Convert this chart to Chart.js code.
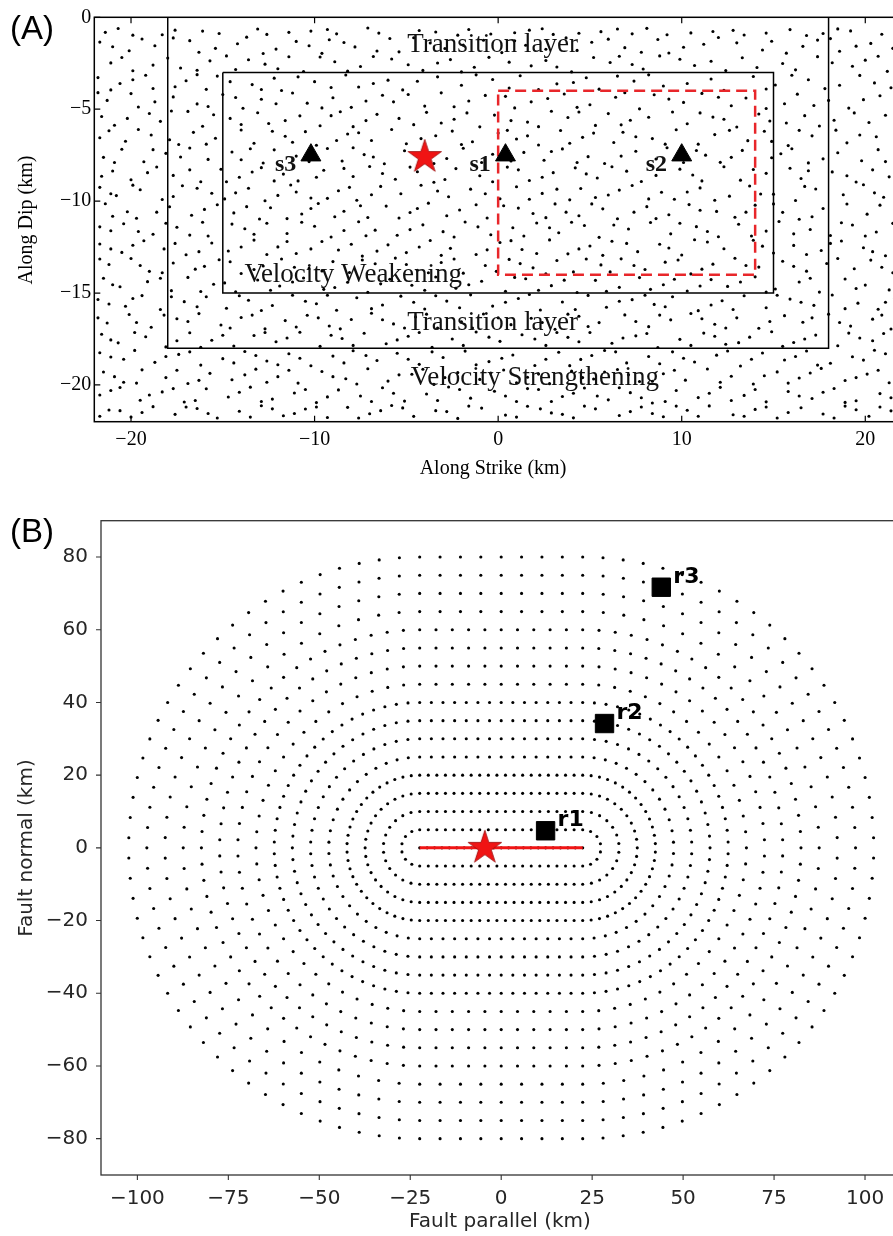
<!DOCTYPE html>
<html lang="en">
<head>
<meta charset="UTF-8">
<title>Fault model and receivers</title>
<script src="https://cdn.jsdelivr.net/npm/chart.js@4"></script>
<style>
  html, body { margin: 0; padding: 0; background: #fff; }
  body { width: 893px; height: 1236px; position: relative; overflow: hidden; }
  canvas { position: absolute; left: 0; }
  #chartA { top: 0; }
  #chartB { top: 490px; }
</style>
</head>
<body>
<canvas id="chartA" width="910" height="480"></canvas>
<canvas id="chartB" width="910" height="746"></canvas>
<script>
// ---------- panel (A): fault plane ----------
const strikeTicks = [-20, -10, 0, 10, 20];
const dipTicks = [0, -5, -10, -15, -20];

const outerBox = [[-18, 0], [18, 0], [18, -18], [-18, -18], [-18, 0]];
const innerBox = [[-15, -3], [15, -3], [15, -15], [-15, -15], [-15, -3]];
const patchBox = [[0, -4], [14, -4], [14, -14], [0, -14], [0, -4]];

const stationNames = ['s1', 's2', 's3'];
const stationX = [0.4, 10.0, -10.2];
const stationY = [-7.5, -7.5, -7.5];
const hypoA = [-4.0, -7.6];

const regionNames = ['Transition layer', 'Velocity Weakening', 'Transition layer', 'Velocity Strengthening'];
const regionX = [-0.3, -7.9, -0.3, 2.0];
const regionY = [-1.5, -14.0, -16.6, -19.6];

// mesh nodes on the fault, x,y pairs (km), one line per km of depth
const meshXY = [
  -21.4,-0.82, -20.7,-0.61, -18.3,-0.95, -17.6,-0.7, -15.2,-0.88, -13.1,-0.64, -12.6,-0.93, -10.2,-0.75, -8.8,-0.9, -7.1,-0.58, -6.5,-0.86, -4.3,-0.72, -2.2,-0.97, -1.6,-0.66, 0.9,-0.84, 2.4,-0.62, 3.0,-0.93, 5.6,-0.78, 7.3,-0.9, 8.1,-0.6, 10.5,-0.85, 12.8,-0.71, 13.4,-0.96, 15.9,-0.67, 17.7,-0.88, 19.2,-0.74, 20.9,-0.92,
  -19.9,-0.97, -16.1,-0.75, -11.4,-0.82, -9.3,-0.66, -3.4,-0.8, -0.4,-0.91, 1.7,-0.7, 4.4,-0.87, 6.5,-0.64, 9.2,-0.95, 11.7,-0.77, 14.6,-0.86, 16.8,-0.99, 18.5,-0.63, 21.6,-0.79,
  -21.7,-1.35, -20.1,-1.82, -19.4,-1.18, -18.7,-1.55, -16.8,-1.27, -16.3,-1.9, -14.2,-1.44, -13.7,-1.08, -12.1,-1.73, -11.0,-1.31, -9.6,-1.96, -9.2,-1.22, -7.8,-1.61, -5.9,-1.15, -5.4,-1.88, -3.7,-1.4, -2.9,-1.7, -0.8,-1.25, 0.2,-1.92, 1.5,-1.52, 3.7,-1.12, 4.3,-1.8, 5.1,-1.36, 6.9,-1.65, 8.7,-1.21, 9.3,-1.94, 11.2,-1.47, 12.0,-1.1, 14.4,-1.78, 14.9,-1.3, 16.6,-1.58, 18.1,-1.16, 18.6,-1.85, 20.3,-1.42, 21.5,-1.69,
  -21.0,-1.6, -17.7,-1.12, -15.4,-1.69, -12.8,-1.97, -10.3,-1.55, -8.4,-1.37, -6.6,-1.83, -4.6,-1.11, -1.9,-1.51, 0.9,-1.28, 2.6,-1.74, 6.0,-1.19, 7.8,-1.9, 10.1,-1.63, 13.0,-1.39, 15.7,-1.95, 17.4,-1.24, 19.5,-1.57,
  -21.1,-2.48, -19.9,-2.91, -18.0,-2.22, -17.3,-2.76, -15.7,-2.37, -14.8,-2.1, -14.3,-2.84, -12.7,-2.55, -11.4,-2.15, -10.6,-2.95, -8.9,-2.42, -7.5,-2.68, -6.8,-2.13, -4.9,-2.58, -4.1,-2.89, -2.6,-2.3, -1.3,-2.72, -0.5,-2.18, 1.8,-2.64, 2.6,-2.35, 4.0,-2.97, 6.1,-2.46, 6.6,-2.12, 7.9,-2.81, 9.9,-2.28, 10.7,-2.62, 12.4,-2.9, 13.3,-2.2, 15.5,-2.51, 16.2,-2.86, 17.4,-2.14, 19.3,-2.66, 20.0,-2.33, 21.2,-2.94,
  -20.5,-2.19, -18.8,-2.6, -16.4,-2.88, -13.6,-2.31, -12.0,-2.8, -9.7,-2.16, -8.2,-2.93, -5.8,-2.27, -3.3,-2.49, -2.0,-2.97, 0.6,-2.44, 3.2,-2.7, 5.2,-2.19, 7.3,-2.57, 8.8,-2.1, 11.6,-2.39, 14.1,-2.73, 18.2,-2.47, 20.7,-2.12,
  -21.8,-3.28, -20.6,-3.6, -19.2,-3.15, -18.8,-3.87, -17.0,-3.45, -15.9,-3.92, -15.3,-3.2, -13.4,-3.66, -12.2,-3.31, -11.8,-3.98, -10.0,-3.5, -8.3,-3.14, -7.6,-3.79, -6.0,-3.42, -5.2,-3.95, -3.3,-3.24, -2.0,-3.7, -0.3,-3.38, 0.6,-3.85, 1.2,-3.18, 3.2,-3.62, 4.8,-3.29, 5.5,-3.91, 7.4,-3.47, 8.2,-3.13, 9.0,-3.74, 11.6,-3.36, 12.3,-3.97, 13.9,-3.22, 15.1,-3.68, 16.9,-3.4, 17.8,-3.88, 19.7,-3.16, 20.5,-3.57, 21.4,-3.83,
  -21.1,-3.95, -19.9,-3.4, -17.6,-3.78, -16.4,-3.12, -14.6,-3.5, -12.9,-3.93, -10.9,-3.24, -9.1,-3.82, -6.8,-3.6, -4.4,-3.48, -1.2,-3.13, 2.2,-3.93, 4.1,-3.55, 6.5,-3.2, 10.3,-3.6, 14.6,-3.9, 16.0,-3.15, 18.6,-3.7, 21.8,-3.22,
  -21.3,-4.52, -20.0,-4.15, -19.6,-4.88, -17.7,-4.33, -16.4,-4.71, -15.0,-4.2, -13.9,-4.95, -12.9,-4.46, -11.2,-4.12, -10.4,-4.67, -9.0,-4.38, -8.0,-4.9, -6.3,-4.24, -5.7,-4.6, -4.0,-4.83, -3.1,-4.11, -1.6,-4.55, 0.4,-4.3, 0.9,-4.93, 2.7,-4.42, 3.6,-4.17, 5.0,-4.76, 6.4,-4.35, 7.7,-4.98, 8.5,-4.21, 10.1,-4.63, 11.1,-4.14, 12.7,-4.81, 13.5,-4.39, 15.6,-4.7, 16.3,-4.18, 18.0,-4.52, 19.1,-4.94, 20.8,-4.27, 21.7,-4.65,
  -21.8,-4.1, -18.7,-4.6, -15.8,-4.85, -14.3,-4.36, -12.1,-4.7, -9.6,-4.93, -7.2,-4.55, -4.9,-4.2, -2.4,-4.87, -0.7,-4.25, 1.8,-4.6, 4.3,-4.9, 6.9,-4.1, 9.3,-4.45, 12.0,-4.35, 14.6,-4.96, 17.2,-4.8, 19.9,-4.48,
  -21.6,-5.4, -20.9,-5.87, -19.0,-5.23, -18.4,-5.66, -16.9,-5.12, -16.1,-5.93, -14.6,-5.5, -13.1,-5.19, -12.5,-5.78, -10.8,-5.36, -9.7,-5.9, -8.6,-5.14, -7.2,-5.62, -6.6,-5.28, -4.6,-5.84, -3.9,-5.17, -2.4,-5.55, -1.0,-5.96, -0.2,-5.32, 1.6,-5.7, 2.9,-5.11, 3.8,-5.45, 5.3,-5.88, 6.0,-5.24, 7.2,-5.6, 9.5,-5.15, 10.3,-5.79, 11.7,-5.43, 13.0,-5.97, 14.2,-5.26, 14.8,-5.64, 16.7,-5.35, 17.5,-5.91, 19.4,-5.2, 20.2,-5.72, 21.1,-5.33,
  -20.2,-5.5, -17.8,-5.1, -15.5,-5.3, -14.0,-5.83, -11.6,-5.62, -9.1,-5.35, -7.9,-5.95, -5.4,-5.5, -3.1,-5.75, -1.7,-5.2, 0.7,-5.62, 2.2,-5.95, 4.4,-5.15, 6.7,-5.85, 8.2,-5.44, 11.0,-5.2, 12.3,-5.55, 15.7,-5.75, 18.3,-5.6, 21.7,-5.9,
  -21.2,-6.17, -20.3,-6.74, -18.9,-6.4, -17.4,-6.92, -16.6,-6.26, -15.4,-6.58, -14.0,-6.13, -13.3,-6.85, -11.6,-6.47, -10.5,-6.22, -9.9,-6.96, -8.2,-6.35, -6.9,-6.7, -5.8,-6.1, -5.0,-6.88, -3.4,-6.44, -2.5,-6.19, -1.4,-6.77, 0.0,-6.3, 1.0,-6.62, 2.2,-6.95, 3.4,-6.16, 4.6,-6.53, 6.3,-6.81, 6.8,-6.25, 8.4,-6.6, 9.7,-6.12, 10.9,-6.9, 11.8,-6.38, 13.6,-6.71, 14.5,-6.2, 15.8,-6.98, 17.1,-6.45, 18.4,-6.14, 19.0,-6.83, 20.6,-6.5, 21.6,-6.23,
  -21.7,-6.55, -19.6,-6.1, -17.9,-6.66, -15.9,-6.9, -12.3,-6.2, -11.2,-6.8, -8.8,-6.7, -7.6,-6.28, -4.2,-6.6, -2.0,-6.92, 0.5,-6.15, 1.6,-6.45, 3.9,-6.85, 5.2,-6.3, 7.5,-6.5, 9.1,-6.9, 12.6,-6.15, 14.9,-6.75, 16.4,-6.15, 19.7,-6.4,
  -21.5,-7.62, -20.5,-7.18, -19.3,-7.86, -18.1,-7.4, -16.8,-7.11, -15.8,-7.73, -14.5,-7.33, -12.8,-7.93, -12.2,-7.21, -11.0,-7.55, -9.3,-7.14, -8.5,-7.82, -7.3,-7.47, -6.2,-7.97, -5.1,-7.26, -2.8,-7.68, -1.9,-7.12, -0.9,-7.9, 1.4,-7.35, 2.5,-7.78, 3.5,-7.16, 4.9,-7.58, 5.8,-7.95, 7.5,-7.29, 8.6,-7.71, 9.2,-7.1, 11.3,-7.5, 12.1,-7.89, 13.3,-7.24, 14.9,-7.64, 16.0,-7.15, 16.9,-7.92, 18.5,-7.37, 19.8,-7.8, 20.7,-7.2, 21.8,-7.55,
  -20.9,-7.9, -18.8,-7.2, -17.3,-7.6, -14.0,-7.75, -13.5,-7.15, -10.3,-7.85, -7.9,-7.1, -6.8,-7.6, -3.5,-7.95, -0.3,-7.45, 0.7,-7.82, 2.9,-7.3, 4.3,-7.9, 6.7,-7.55, 10.1,-7.9, 10.8,-7.25, 12.7,-7.62, 15.4,-7.42, 17.7,-7.7, 21.1,-7.85,
  -21.0,-8.36, -20.0,-8.84, -18.6,-8.14, -17.7,-8.6, -16.2,-8.95, -15.1,-8.27, -14.1,-8.7, -12.9,-8.18, -11.7,-8.53, -10.9,-8.9, -9.5,-8.32, -7.9,-8.66, -7.0,-8.12, -5.6,-8.81, -4.4,-8.4, -3.5,-8.97, -2.3,-8.23, -1.0,-8.62, 0.5,-8.15, 1.7,-8.88, 3.0,-8.45, 4.2,-8.19, 5.4,-8.74, 7.0,-8.37, 7.8,-8.93, 9.9,-8.26, 10.6,-8.58, 12.3,-8.13, 13.2,-8.86, 14.6,-8.49, 15.9,-8.21, 16.5,-8.77, 18.2,-8.41, 19.5,-8.96, 20.4,-8.3, 21.3,-8.68,
  -21.6,-8.65, -19.1,-8.45, -16.8,-8.3, -14.8,-8.95, -13.4,-8.42, -12.2,-8.9, -9.9,-8.7, -8.4,-8.22, -6.3,-8.5, -4.8,-8.15, -2.9,-8.82, -0.3,-8.95, 1.1,-8.3, 2.4,-8.7, 4.8,-8.52, 6.2,-8.13, 8.6,-8.6, 11.1,-8.9, 13.9,-8.28, 16.9,-8.35, 19.0,-8.62, 21.8,-8.2,
  -21.7,-9.25, -20.8,-9.7, -19.5,-9.38, -18.3,-9.91, -17.2,-9.16, -15.6,-9.57, -14.9,-9.88, -13.6,-9.3, -12.0,-9.69, -11.3,-9.12, -10.2,-9.83, -8.7,-9.44, -7.7,-9.95, -6.4,-9.2, -5.3,-9.6, -4.2,-9.14, -2.7,-9.76, -1.5,-9.35, 0.1,-9.87, 1.0,-9.22, 2.4,-9.58, 3.9,-9.93, 4.5,-9.31, 6.0,-9.67, 7.3,-9.15, 8.9,-9.52, 9.6,-9.9, 11.0,-9.28, 12.6,-9.73, 13.7,-9.18, 14.3,-9.61, 16.2,-9.97, 17.3,-9.34, 18.8,-9.65, 19.9,-9.11, 21.0,-9.79,
  -21.1,-9.6, -19.9,-9.13, -17.7,-9.75, -16.4,-9.3, -14.3,-9.55, -12.7,-9.98, -11.0,-9.5, -9.3,-9.85, -8.1,-9.25, -6.9,-9.65, -3.3,-9.45, -0.7,-9.6, 1.7,-9.9, 3.2,-9.35, 5.3,-9.8, 6.6,-9.4, 8.2,-9.88, 10.3,-9.5, 11.8,-9.95, 15.0,-9.62, 16.7,-9.2, 20.5,-9.55,
  -21.4,-10.14, -20.2,-10.58, -19.7,-10.93, -17.9,-10.31, -16.7,-10.77, -15.3,-10.2, -14.4,-10.64, -13.0,-10.97, -12.4,-10.36, -10.7,-10.7, -9.8,-10.13, -8.4,-10.55, -7.1,-10.89, -6.1,-10.27, -4.8,-10.62, -3.8,-10.11, -2.1,-10.48, -0.6,-10.92, 0.3,-10.25, 1.9,-10.67, 3.1,-10.15, 4.4,-10.8, 5.7,-10.42, 6.5,-10.96, 8.1,-10.3, 9.3,-10.74, 10.4,-10.19, 11.9,-10.56, 12.9,-10.88, 14.0,-10.22, 15.5,-10.61, 16.4,-10.99, 17.7,-10.4, 19.0,-10.16, 20.1,-10.71, 21.6,-10.45,
  -21.0,-10.82, -18.6,-10.6, -16.0,-10.45, -13.7,-10.3, -11.5,-10.95, -10.2,-10.4, -8.9,-10.85, -7.5,-10.25, -5.4,-10.92, -4.4,-10.4, -2.8,-10.8, -1.2,-10.2, 1.1,-10.38, 2.6,-10.9, 3.7,-10.6, 5.1,-10.15, 7.4,-10.6, 8.6,-10.95, 11.0,-10.5, 13.5,-10.6, 15.0,-10.15, 17.1,-10.85, 20.8,-10.22,
  -21.1,-11.61, -20.4,-11.23, -18.8,-11.8, -17.5,-11.42, -16.1,-11.15, -15.8,-11.9, -13.8,-11.5, -12.6,-11.2, -11.5,-11.76, -10.0,-11.37, -9.1,-11.95, -7.6,-11.12, -6.7,-11.58, -5.5,-11.86, -4.1,-11.29, -3.0,-11.66, -1.8,-11.14, -0.4,-11.83, 0.8,-11.45, 2.1,-11.19, 3.3,-11.72, 4.7,-11.33, 5.5,-11.97, 7.1,-11.52, 8.3,-11.16, 9.4,-11.78, 10.8,-11.39, 12.0,-11.94, 13.1,-11.26, 14.6,-11.63, 15.3,-11.11, 17.0,-11.54, 18.1,-11.87, 19.3,-11.3, 20.6,-11.68, 21.5,-11.21,
  -21.7,-11.4, -19.6,-11.65, -18.1,-11.2, -16.8,-11.85, -14.5,-11.25, -13.3,-11.8, -10.7,-11.15, -8.4,-11.6, -7.2,-11.88, -4.8,-11.55, -2.4,-11.95, -1.1,-11.4, 1.4,-11.9, 2.8,-11.45, 4.0,-11.15, 6.3,-11.3, 9.9,-11.2, 11.4,-11.65, 13.8,-11.9, 16.1,-11.78, 18.7,-11.18, 20.0,-11.9,
  -21.7,-12.33, -20.5,-12.79, -19.3,-12.16, -18.2,-12.6, -17.0,-12.92, -15.6,-12.28, -14.7,-12.71, -13.3,-12.12, -12.0,-12.49, -11.0,-12.85, -9.6,-12.2, -8.7,-12.66, -7.4,-12.99, -6.0,-12.38, -5.0,-12.8, -3.7,-12.14, -2.6,-12.57, -1.2,-12.9, 0.1,-12.25, 1.3,-12.63, 2.8,-12.11, 3.8,-12.87, 5.0,-12.44, 6.2,-12.18, 7.6,-12.75, 8.8,-12.35, 10.0,-12.93, 11.4,-12.22, 12.3,-12.59, 13.9,-12.13, 15.0,-12.82, 16.1,-12.41, 17.6,-12.69, 18.7,-12.17, 19.9,-12.54, 21.1,-12.97,
  -21.1,-12.6, -19.9,-12.4, -17.6,-12.3, -16.3,-12.75, -14.0,-12.5, -12.6,-12.9, -11.5,-12.2, -10.2,-12.6, -8.0,-12.35, -6.6,-12.72, -4.3,-12.5, -3.1,-12.95, -0.6,-12.65, 0.7,-12.15, 2.1,-12.85, 4.4,-12.6, 5.7,-12.95, 7.0,-12.3, 9.3,-12.55, 10.7,-12.1, 14.4,-12.45, 16.8,-12.9, 18.1,-12.3, 20.4,-12.75,
  -21.2,-13.45, -20.0,-13.12, -19.0,-13.82, -17.7,-13.37, -16.5,-13.7, -15.2,-13.19, -14.0,-13.94, -12.8,-13.53, -11.8,-13.15, -10.3,-13.66, -9.0,-13.29, -8.1,-13.88, -6.7,-13.41, -5.6,-13.1, -4.4,-13.76, -3.1,-13.34, -1.9,-13.92, -0.7,-13.5, 0.6,-13.17, 1.9,-13.63, 3.2,-13.23, 4.1,-13.85, 5.6,-13.47, 6.7,-13.14, 8.0,-13.72, 9.1,-13.32, 10.5,-13.96, 11.7,-13.43, 12.9,-13.11, 14.2,-13.59, 15.5,-13.27, 16.8,-13.81, 17.9,-13.39, 19.4,-13.68, 20.3,-13.21, 21.5,-13.9,
  -21.7,-13.15, -19.5,-13.5, -18.3,-13.9, -16.0,-13.55, -14.6,-13.3, -13.3,-13.72, -11.1,-13.6, -9.6,-13.8, -7.4,-13.2, -5.0,-13.45, -3.8,-13.9, -2.4,-13.15, -0.1,-13.82, 1.2,-13.4, 2.6,-13.95, 4.8,-13.15, 6.1,-13.85, 7.4,-13.5, 9.8,-13.2, 11.1,-13.7, 13.5,-13.5, 16.1,-13.55, 18.5,-13.12, 20.9,-13.6,
  -21.5,-14.2, -20.6,-14.66, -19.1,-14.38, -17.8,-14.87, -16.9,-14.15, -15.5,-14.52, -14.3,-14.93, -13.1,-14.29, -11.9,-14.62, -10.6,-14.18, -9.5,-14.8, -8.2,-14.41, -7.1,-14.96, -5.9,-14.25, -4.7,-14.58, -3.4,-14.13, -2.3,-14.74, -0.9,-14.36, 0.4,-14.9, 1.5,-14.22, 2.9,-14.6, 4.3,-14.97, 5.3,-14.31, 6.6,-14.69, 7.7,-14.16, 9.0,-14.55, 10.3,-14.89, 11.6,-14.27, 12.5,-14.64, 14.0,-14.12, 15.1,-14.78, 16.4,-14.4, 17.5,-14.95, 18.9,-14.24, 20.0,-14.57, 21.3,-14.83,
  -21.0,-14.55, -18.4,-14.2, -16.2,-14.92, -14.9,-14.45, -12.4,-14.85, -11.2,-14.4, -8.9,-14.7, -6.4,-14.5, -4.0,-14.85, -1.6,-14.55, 0.9,-14.15, 2.2,-14.85, 3.6,-14.3, 5.9,-14.9, 8.3,-14.8, 9.6,-14.25, 11.0,-14.62, 13.2,-14.4, 14.6,-14.95, 17.0,-14.2, 19.5,-14.75, 21.7,-14.35,
  -21.8,-15.35, -20.3,-15.72, -19.4,-15.14, -18.4,-15.9, -17.1,-15.47, -15.9,-15.2, -14.8,-15.83, -13.6,-15.39, -12.3,-15.68, -11.2,-15.12, -9.9,-15.58, -8.8,-15.94, -7.7,-15.26, -6.3,-15.65, -5.3,-15.17, -4.0,-15.87, -2.8,-15.44, -1.5,-15.1, -0.3,-15.71, 1.1,-15.3, 2.3,-15.92, 3.5,-15.49, 4.9,-15.13, 5.9,-15.77, 7.3,-15.36, 8.5,-15.62, 9.5,-15.2, 10.9,-15.96, 12.2,-15.42, 13.4,-15.15, 14.6,-15.8, 15.9,-15.33, 17.2,-15.67, 18.2,-15.11, 19.6,-15.55, 20.7,-15.88, 21.6,-15.28,
  -21.2,-15.6, -19.9,-15.3, -17.8,-15.2, -16.4,-15.75, -14.1,-15.15, -12.9,-15.95, -10.5,-15.45, -9.3,-15.12, -6.9,-15.85, -4.6,-15.5, -3.4,-15.15, -2.1,-15.8, 0.4,-15.5, 1.7,-15.08, 4.2,-15.9, 6.6,-15.45, 8.0,-15.12, 9.1,-15.75, 11.6,-15.65, 12.8,-15.9, 15.2,-15.12, 16.5,-15.5, 18.9,-15.85, 21.1,-15.5,
  -21.3,-16.63, -20.1,-16.17, -18.9,-16.86, -17.5,-16.4, -16.3,-16.12, -15.1,-16.74, -14.0,-16.33, -12.7,-16.95, -11.6,-16.5, -10.4,-16.21, -9.2,-16.79, -8.0,-16.44, -6.9,-16.1, -5.7,-16.68, -4.5,-16.3, -3.3,-16.9, -2.0,-16.56, -0.8,-16.14, 0.7,-16.72, 1.8,-16.37, 3.1,-16.97, 4.4,-16.26, 5.5,-16.61, 6.9,-16.19, 8.2,-16.83, 9.4,-16.46, 10.5,-16.11, 11.8,-16.7, 13.0,-16.35, 14.2,-16.92, 15.6,-16.23, 16.6,-16.59, 18.0,-16.15, 19.2,-16.8, 20.4,-16.42, 21.4,-16.96,
  -21.8,-16.35, -19.7,-16.6, -18.2,-16.2, -16.9,-16.55, -14.6,-16.9, -13.4,-16.2, -11.0,-16.85, -9.8,-16.35, -8.6,-16.95, -6.3,-16.45, -5.1,-16.9, -3.9,-16.15, -1.4,-16.9, 0.0,-16.35, 2.4,-16.6, 3.8,-16.15, 4.9,-16.82, 7.5,-16.55, 8.8,-16.2, 11.1,-16.4, 12.4,-16.9, 14.8,-16.55, 17.1,-16.35, 18.6,-16.6, 20.9,-16.2,
  -21.6,-17.24, -20.7,-17.71, -19.2,-17.38, -18.1,-17.93, -16.8,-17.16, -15.6,-17.57, -14.4,-17.88, -13.3,-17.31, -12.1,-17.65, -10.8,-17.13, -9.7,-17.9, -8.5,-17.47, -7.3,-17.19, -6.1,-17.76, -4.9,-17.35, -3.6,-17.95, -2.5,-17.5, -1.2,-17.12, 0.1,-17.63, 1.3,-17.27, 2.6,-17.85, 3.8,-17.41, 5.0,-17.15, 6.2,-17.73, 7.5,-17.33, 8.7,-17.96, 9.9,-17.52, 11.2,-17.18, 12.4,-17.79, 13.7,-17.4, 14.9,-17.11, 16.1,-17.69, 17.3,-17.29, 18.5,-17.87, 19.7,-17.45, 21.0,-17.2,
  -21.1,-17.55, -19.8,-17.15, -17.5,-17.6, -16.2,-17.95, -15.0,-17.3, -12.7,-17.15, -11.5,-17.45, -9.1,-17.3, -7.9,-17.85, -5.5,-17.55, -4.3,-17.15, -1.9,-17.85, -0.5,-17.4, 2.0,-17.5, 3.2,-17.15, 4.4,-17.65, 6.8,-17.45, 8.1,-17.2, 10.5,-17.85, 11.8,-17.35, 13.1,-17.7, 15.5,-17.9, 16.7,-17.5, 19.1,-17.18, 20.4,-17.6, 21.6,-17.85,
  -21.1,-18.48, -19.8,-18.12, -18.7,-18.77, -17.4,-18.34, -16.2,-18.92, -15.0,-18.57, -13.8,-18.18, -12.6,-18.7, -11.4,-18.3, -10.2,-18.96, -9.0,-18.43, -7.9,-18.14, -6.6,-18.67, -5.5,-18.28, -4.3,-18.88, -3.0,-18.51, -1.8,-18.16, -0.5,-18.73, 0.8,-18.37, 2.0,-18.94, 3.3,-18.22, 4.5,-18.61, 5.8,-18.13, 7.0,-18.8, 8.2,-18.45, 9.5,-18.2, 10.7,-18.75, 11.9,-18.38, 13.2,-18.97, 14.4,-18.26, 15.6,-18.64, 16.8,-18.15, 18.1,-18.82, 19.3,-18.47, 20.5,-18.11, 21.7,-18.69,
  -21.7,-18.25, -20.4,-18.6, -18.1,-18.45, -16.8,-18.2, -14.4,-18.8, -13.2,-18.4, -12.0,-18.9, -10.8,-18.55, -8.4,-18.8, -7.2,-18.4, -4.9,-18.6, -3.6,-18.2, -1.2,-18.9, 0.2,-18.55, 2.6,-18.6, 3.9,-18.95, 5.1,-18.4, 6.4,-18.2, 8.8,-18.85, 10.1,-18.55, 12.5,-18.15, 13.8,-18.6, 16.2,-18.45, 17.4,-18.92, 19.9,-18.65, 21.1,-18.3,
  -21.5,-19.3, -20.4,-19.85, -19.4,-19.18, -18.1,-19.6, -16.9,-19.92, -15.7,-19.37, -14.5,-19.72, -13.2,-19.14, -12.0,-19.55, -10.9,-19.9, -9.6,-19.27, -8.3,-19.66, -7.1,-19.12, -6.0,-19.79, -4.7,-19.42, -3.5,-19.97, -2.2,-19.33, -1.0,-19.7, 0.3,-19.19, 1.6,-19.58, 2.8,-19.93, 4.0,-19.25, 5.2,-19.68, 6.5,-19.16, 7.7,-19.81, 9.0,-19.39, 10.2,-19.74, 11.4,-19.13, 12.7,-19.53, 13.9,-19.95, 15.2,-19.29, 16.4,-19.62, 17.6,-19.1, 18.9,-19.76, 20.1,-19.41, 21.3,-19.88,
  -20.9,-19.55, -19.7,-19.9, -17.5,-19.2, -16.3,-19.75, -13.8,-19.45, -12.6,-19.85, -11.4,-19.2, -9.0,-19.55, -7.7,-19.95, -5.4,-19.45, -4.1,-19.15, -2.9,-19.6, -0.4,-19.35, 1.0,-19.88, 2.2,-19.4, 4.6,-19.6, 5.8,-19.3, 7.1,-19.45, 8.4,-19.8, 9.6,-19.2, 12.1,-19.85, 14.5,-19.5, 15.8,-19.9, 17.0,-19.35, 19.5,-19.6, 20.7,-19.2,
  -21.7,-20.55, -20.6,-20.14, -19.5,-20.83, -18.3,-20.38, -17.1,-20.93, -15.9,-20.21, -14.7,-20.66, -13.5,-20.12, -12.3,-20.77, -11.1,-20.44, -9.9,-20.96, -8.7,-20.27, -7.5,-20.6, -6.3,-20.15, -5.1,-20.88, -3.9,-20.49, -2.7,-20.11, -1.5,-20.72, -0.2,-20.34, 1.0,-20.9, 2.2,-20.25, 3.5,-20.63, 4.7,-20.17, 6.0,-20.81, 7.2,-20.42, 8.4,-20.98, 9.7,-20.3, 10.9,-20.69, 12.1,-20.13, 13.4,-20.57, 14.6,-20.92, 15.8,-20.36, 17.1,-20.74, 18.3,-20.19, 19.5,-20.86, 20.8,-20.47,
  -21.1,-20.3, -19.0,-20.55, -17.7,-20.2, -16.5,-20.85, -14.1,-20.4, -12.9,-20.9, -10.5,-20.25, -9.3,-20.65, -6.9,-20.9, -5.7,-20.45, -3.3,-20.85, -2.1,-20.25, 0.4,-20.6, 1.6,-20.2, 2.9,-20.9, 4.1,-20.45, 5.4,-20.6, 6.6,-20.15, 7.8,-20.7, 9.1,-20.9, 11.5,-20.45, 12.7,-20.85, 14.0,-20.25, 16.4,-20.6, 17.7,-20.4, 18.9,-20.95, 21.4,-20.7,
  -21.2,-21.36, -20.0,-21.75, -18.8,-21.18, -17.6,-21.6, -16.4,-21.28, -15.3,-21.8, -14.1,-21.43, -12.9,-21.13, -11.7,-21.68, -10.5,-21.31, -9.3,-21.77, -8.2,-21.22, -7.0,-21.57, -5.8,-21.12, -4.6,-21.71, -3.4,-21.4, -2.2,-21.82, -0.9,-21.26, 0.4,-21.64, 1.6,-21.16, 2.9,-21.52, 4.1,-21.79, 5.3,-21.3, 6.6,-21.66, 7.8,-21.2, 9.0,-21.73, 10.3,-21.38, 11.5,-21.14, 12.8,-21.62, 14.0,-21.33, 15.2,-21.8, 16.5,-21.24, 17.7,-21.58, 18.9,-21.15, 20.2,-21.7, 21.4,-21.41,
  -21.7,-21.7, -20.6,-21.4, -19.4,-21.5, -17.0,-21.2, -15.8,-21.55, -13.5,-21.75, -12.3,-21.3, -11.1,-21.55, -9.9,-21.2, -7.6,-21.8, -6.4,-21.4, -5.2,-21.25, -2.8,-21.45, -1.6,-21.15, 1.0,-21.75, 2.3,-21.3, 3.5,-21.6, 4.7,-21.15, 7.2,-21.45, 8.4,-21.55, 9.7,-21.15, 10.9,-21.7, 13.4,-21.7, 14.6,-21.2, 15.8,-21.5, 18.3,-21.8, 19.5,-21.35, 20.8,-21.2
];

// ---------- panel (B): map view ----------
const parallelTicks = [-100, -75, -50, -25, 0, 25, 50, 75, 100];
const normalTicks = [-80, -60, -40, -20, 0, 20, 40, 60, 80];
const faultHalf = 22.4;
const hypoB = [-4.5, 0];
const ringRadius = [0, 5, 10, 15, 20, 25, 30, 35, 40, 45, 50, 55, 60, 65, 70, 75, 80];
const ringSpacing = [2.04, 2.36, 2.36, 2.36, 2.36, 3.2, 3.2, 3.2, 3.2, 4.48, 4.48, 4.48, 4.48, 5.6, 5.6, 5.6, 5.6];
const receiverNames = ['r1', 'r2', 'r3'];
const receiverX = [12.2, 28.4, 44.0];
const receiverY = [4.7, 34.2, 71.7];

// ---------- helpers ----------
const serif = '"Liberation Serif", "Times New Roman", serif';
const sans = '"DejaVu Sans", sans-serif';
const minus = v => (v < 0 ? '\u2212' + Math.abs(v) : String(v));
const fixedTicks = list => s => { s.ticks = list.map(v => ({ value: v })); };
const pts = arr => arr.map(p => ({ x: p[0], y: p[1] }));

function makeStar(R) {
  const c = document.createElement('canvas');
  const s = Math.ceil(2 * R + 4);
  c.width = s; c.height = s;
  const g = c.getContext('2d');
  g.translate(s / 2, s / 2);
  g.beginPath();
  for (let i = 0; i < 10; i++) {
    const r = i % 2 ? R * 0.382 : R;
    const a = -Math.PI / 2 + i * Math.PI / 5;
    g.lineTo(r * Math.cos(a), r * Math.sin(a));
  }
  g.closePath();
  g.fillStyle = '#f01414';
  g.fill();
  g.lineWidth = 0.8;
  g.strokeStyle = '#9a0a0a';
  g.stroke();
  return c;
}
const star = makeStar(17.6);

const meshPoints = [];
for (let i = 0; i < meshXY.length; i += 2) meshPoints.push({ x: meshXY[i], y: meshXY[i + 1] });

// receivers sit on stadium-shaped rings around the fault trace
function ringPoints(r, step) {
  const out = [];
  const nLine = Math.round(2 * faultHalf / step);
  const dx = 2 * faultHalf / nLine;
  if (r === 0) {
    for (let k = 0; k <= nLine; k++) out.push({ x: -faultHalf + k * dx, y: 0 });
    return out;
  }
  const nArc = Math.round(Math.PI * r / step);
  const dt = Math.PI / nArc;
  for (let k = 0; k <= nLine; k++) out.push({ x: -faultHalf + k * dx, y: r });
  for (let k = 1; k < nArc; k++) {
    const t = Math.PI / 2 - k * dt;
    out.push({ x: faultHalf + r * Math.cos(t), y: r * Math.sin(t) });
  }
  for (let k = 0; k <= nLine; k++) out.push({ x: faultHalf - k * dx, y: -r });
  for (let k = 1; k < nArc; k++) {
    const t = -Math.PI / 2 - k * dt;
    out.push({ x: -faultHalf + r * Math.cos(t), y: r * Math.sin(t) });
  }
  return out;
}
const ringDots = [];
ringRadius.forEach((r, i) => ringDots.push(...ringPoints(r, ringSpacing[i])));

// ---------- chart A ----------
const panelA = {
  id: 'panelA',
  afterDatasetsDraw(chart) {
    const { ctx, chartArea: a, scales: { x, y } } = chart;
    ctx.save();
    ctx.strokeStyle = '#000';
    ctx.lineWidth = 1.5;
    ctx.strokeRect(a.left, a.top, a.right - a.left, a.bottom - a.top);
    ctx.lineWidth = 1.2;
    ctx.beginPath();
    x.ticks.forEach(t => {
      const px = x.getPixelForValue(t.value);
      ctx.moveTo(px, a.bottom); ctx.lineTo(px, a.bottom - 6);
      ctx.moveTo(px, a.top); ctx.lineTo(px, a.top + 6);
    });
    y.ticks.forEach(t => {
      const py = y.getPixelForValue(t.value);
      ctx.moveTo(a.left, py); ctx.lineTo(a.left + 6, py);
    });
    ctx.stroke();

    ctx.fillStyle = '#111';
    ctx.textAlign = 'center';
    ctx.textBaseline = 'middle';
    ctx.font = '27px ' + serif;
    regionNames.forEach((s, i) => ctx.fillText(s, x.getPixelForValue(regionX[i]), y.getPixelForValue(regionY[i])));

    ctx.font = 'bold 24px ' + serif;
    ctx.textAlign = 'right';
    stationNames.forEach((s, i) => ctx.fillText(s, x.getPixelForValue(stationX[i] - 0.8), y.getPixelForValue(stationY[i] - 0.55)));

    ctx.fillStyle = '#000';
    ctx.textAlign = 'center';
    ctx.font = '20px ' + serif;
    ctx.fillText('Along Strike (km)', 493, 469);
    ctx.save();
    ctx.translate(27, 220);
    ctx.rotate(-Math.PI / 2);
    ctx.fillText('Along Dip (km)', 0, 0);
    ctx.restore();

    ctx.textAlign = 'left';
    ctx.textBaseline = 'alphabetic';
    ctx.font = '33px "Liberation Sans", sans-serif';
    ctx.fillText('(A)', 10, 39);
    ctx.restore();
  }
};

new Chart(document.getElementById('chartA'), {
  type: 'scatter',
  data: {
    datasets: [
      { data: [{ x: hypoA[0], y: hypoA[1] }], pointStyle: star, pointRadius: 17 },
      { data: stationX.map((v, i) => ({ x: v, y: stationY[i] })), pointStyle: 'triangle', pointRadius: 11.5,
        backgroundColor: '#000', borderColor: '#000', borderWidth: 1 },
      { data: pts(patchBox), showLine: true, pointRadius: 0, borderColor: '#e8262a', borderWidth: 2.5, borderDash: [11, 6] },
      { data: pts(innerBox), showLine: true, pointRadius: 0, borderColor: '#000', borderWidth: 1.5 },
      { data: pts(outerBox), showLine: true, pointRadius: 0, borderColor: '#000', borderWidth: 1.5 },
      { data: meshPoints, pointRadius: 1.55, backgroundColor: '#000', borderWidth: 0 }
    ]
  },
  options: {
    responsive: false,
    animation: false,
    events: [],
    layout: { autoPadding: false, padding: { top: 17.3, right: 8, left: 0, bottom: 0 } },
    plugins: { legend: { display: false }, tooltip: { enabled: false } },
    scales: {
      x: {
        type: 'linear', min: -22, max: 22,
        afterBuildTicks: fixedTicks(strikeTicks),
        afterFit: s => { s.height = 58.3; },
        grid: { display: false, drawTicks: false },
        border: { display: false },
        ticks: { padding: 6, color: '#000', font: { family: serif, size: 20 }, callback: minus, maxRotation: 0, autoSkip: false }
      },
      y: {
        type: 'linear', min: -22, max: 0,
        afterBuildTicks: fixedTicks(dipTicks),
        afterFit: s => { s.width = 94.3; },
        grid: { display: false, drawTicks: false },
        border: { display: false },
        ticks: { padding: 3, color: '#000', font: { family: serif, size: 20 }, callback: minus, autoSkip: false }
      }
    }
  },
  plugins: [panelA]
});

// ---------- chart B ----------
const panelB = {
  id: 'panelB',
  afterDatasetsDraw(chart) {
    const { ctx, chartArea: a, scales: { x, y } } = chart;
    ctx.save();
    ctx.strokeStyle = '#333';
    ctx.lineWidth = 1.3;
    ctx.strokeRect(a.left, a.top, a.right - a.left, a.bottom - a.top);
    ctx.lineWidth = 1.1;
    ctx.beginPath();
    x.ticks.forEach(t => {
      const px = x.getPixelForValue(t.value);
      ctx.moveTo(px, a.bottom); ctx.lineTo(px, a.bottom + 5);
    });
    y.ticks.forEach(t => {
      const py = y.getPixelForValue(t.value);
      ctx.moveTo(a.left, py); ctx.lineTo(a.left - 5, py);
    });
    ctx.stroke();

    ctx.fillStyle = '#000';
    ctx.textAlign = 'left';
    ctx.textBaseline = 'middle';
    ctx.font = 'bold 22px ' + sans;
    receiverNames.forEach((s, i) => ctx.fillText(s, x.getPixelForValue(receiverX[i]) + 12, y.getPixelForValue(receiverY[i]) - 10));

    ctx.fillStyle = '#262626';
    ctx.textAlign = 'center';
    ctx.font = '20px ' + sans;
    ctx.fillText('Fault parallel (km)', 500, 732);
    ctx.save();
    ctx.translate(27, 358);
    ctx.rotate(-Math.PI / 2);
    ctx.fillText('Fault normal (km)', 0, 0);
    ctx.restore();

    ctx.fillStyle = '#000';
    ctx.textAlign = 'left';
    ctx.textBaseline = 'alphabetic';
    ctx.font = '33px "Liberation Sans", sans-serif';
    ctx.fillText('(B)', 10, 52);
    ctx.restore();
  }
};

new Chart(document.getElementById('chartB'), {
  type: 'scatter',
  data: {
    datasets: [
      { data: [{ x: hypoB[0], y: hypoB[1] }], pointStyle: star, pointRadius: 17 },
      { data: receiverX.map((v, i) => ({ x: v, y: receiverY[i] })), pointStyle: 'rect', pointRadius: 13,
        backgroundColor: '#000', borderColor: '#000', borderWidth: 1 },
      { data: [{ x: -faultHalf, y: 0 }, { x: faultHalf, y: 0 }], showLine: true, pointRadius: 0, borderColor: '#f01414', borderWidth: 3 },
      { data: ringDots, pointRadius: 1.55, backgroundColor: '#000', borderWidth: 0 }
    ]
  },
  options: {
    responsive: false,
    animation: false,
    events: [],
    layout: { autoPadding: false, padding: { top: 30.7, right: 8.6, left: 0, bottom: 0 } },
    plugins: { legend: { display: false }, tooltip: { enabled: false } },
    scales: {
      x: {
        type: 'linear', min: -110, max: 110,
        afterBuildTicks: fixedTicks(parallelTicks),
        afterFit: s => { s.height = 61; },
        grid: { display: false, drawTicks: false },
        border: { display: false },
        ticks: { padding: 12, color: '#262626', font: { family: sans, size: 20 }, callback: minus, maxRotation: 0, autoSkip: false }
      },
      y: {
        type: 'linear', min: -90, max: 90,
        afterBuildTicks: fixedTicks(normalTicks),
        afterFit: s => { s.width = 101; },
        grid: { display: false, drawTicks: false },
        border: { display: false },
        ticks: { padding: 13, color: '#262626', font: { family: sans, size: 20 }, callback: minus, autoSkip: false }
      }
    }
  },
  plugins: [panelB]
});
</script>
</body>
</html>
